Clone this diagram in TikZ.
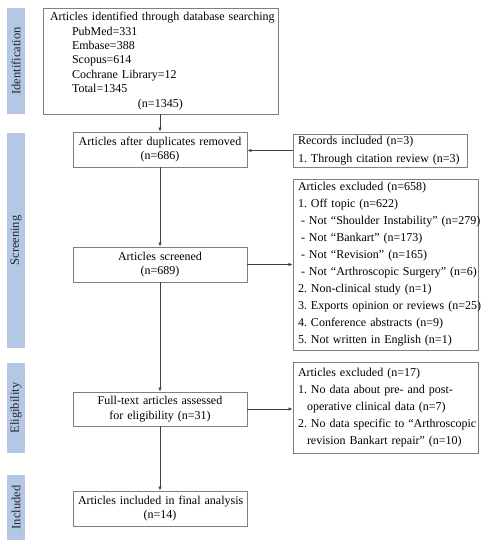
\documentclass[tikz,border=0pt]{standalone}
\usepackage{fontspec}
\setmainfont{Liberation Serif}
\frenchspacing
\usetikzlibrary{arrows.meta}
\definecolor{barblue}{HTML}{B4C7E7}
\definecolor{boxgray}{HTML}{7F7F7F}
\definecolor{linegray}{HTML}{404040}
\begin{document}
\begin{tikzpicture}[x=1pt,y=-1pt,
  sidebar/.style n args={1}{fill=barblue, draw=none, rotate=90, minimum width=#1, minimum height=18pt, inner sep=0pt, text=black!85, font=\fontsize{12.5}{14}\selectfont},
  lbox/.style n args={2}{draw=boxgray, line width=0.9pt, fill=white, minimum height=#2, text width=#1-10pt, inner xsep=5pt, inner ysep=0pt, align=center, font=\fontsize{12}{14.6}\selectfont},
  rbox/.style n args={2}{draw=boxgray, line width=0.9pt, fill=white, minimum height=#2, text width=#1-10pt, inner xsep=5pt, inner ysep=0pt, align=left, font=\fontsize{12}{17}\selectfont},
  conn/.style={draw=linegray, line width=0.7pt, -{Latex[length=4pt,width=3.5pt]}}
]
\useasboundingbox (0,0) rectangle (497,550);

% side bars
\node[sidebar={106pt}] (sid) at (16,61) {Identification};
\node[sidebar={215pt}] (sscr) at (16,240.5) {Screening};
\node[sidebar={90pt}] (selig) at (16,408) {Eligibility};
\node[sidebar={65pt}] (sinc) at (16,507.5) {Included};

% left column
\node[lbox={235pt}{106pt}, align=left, text width=221pt, inner xsep=7pt, font=\fontsize{12}{14.4}\selectfont] (id) at (160.5,61) {%
\mbox{Articles identified through database searching}\\
\hspace*{22pt}PubMed=331\\
\hspace*{22pt}Embase=388\\
\hspace*{22pt}Scopus=614\\
\hspace*{22pt}Cochrane Library=12\\
\hspace*{22pt}Total=1345\\
\hspace*{88pt}(n=1345)};

\node[lbox={174pt}{35pt}] (dup) at (160,149.5) {\mbox{Articles after duplicates removed}\\(n=686)};
\node[lbox={174pt}{35pt}] (scr) at (160,264.5) {\mbox{Articles screened}\\(n=689)};
\node[lbox={174pt}{34pt}] (ft) at (160,409) {\mbox{Full-text articles assessed}\\\mbox{for eligibility (n=31)}};
\node[lbox={174pt}{35pt}] (inc) at (160,508.5) {\mbox{Articles included in final analysis}\\(n=14)};

% right column
\node[rbox={174pt}{33pt}, font=\fontsize{12}{18}\selectfont] (rec) at (380,150.5) {%
\mbox{Records included (n=3)}\\
\mbox{1. Through citation review (n=3)}};

\node[rbox={185pt}{171pt}] (exc1) at (385.5,264.5) {%
\mbox{Articles excluded (n=658)}\\
\mbox{1. Off topic (n=622)}\\
\mbox{\hspace*{3pt}- Not “Shoulder Instability” (n=279)}\\
\mbox{\hspace*{3pt}- Not “Bankart” (n=173)}\\
\mbox{\hspace*{3pt}- Not “Revision” (n=165)}\\
\mbox{\hspace*{3pt}- Not “Arthroscopic Surgery” (n=6)}\\
\mbox{2. Non-clinical study (n=1)}\\
\mbox{3. Exports opinion or reviews (n=25)}\\
\mbox{4. Conference abstracts (n=9)}\\
\mbox{5. Not written in English (n=1)}};

\node[rbox={185pt}{91pt}] (exc2) at (385.5,407.5) {%
\mbox{Articles excluded (n=17)}\\
\mbox{1. No data about pre- and post-}\\
\mbox{\hspace*{9pt}operative clinical data (n=7)}\\
\mbox{2. No data specific to “Arthroscopic}\\
\mbox{\hspace*{9pt}revision Bankart repair” (n=10)}};

% connectors
\draw[conn] (id.south -| dup.north) -- (dup.north);
\draw[conn] (dup) -- (scr);
\draw[conn] (scr) -- (ft);
\draw[conn] (ft) -- (inc);
\draw[conn] (rec.west) -- (rec.west -| dup.east);
\draw[conn] (scr.east) -- (scr.east -| exc1.west);
\draw[conn] (ft.east) -- (ft.east -| exc2.west);
\end{tikzpicture}
\end{document}
